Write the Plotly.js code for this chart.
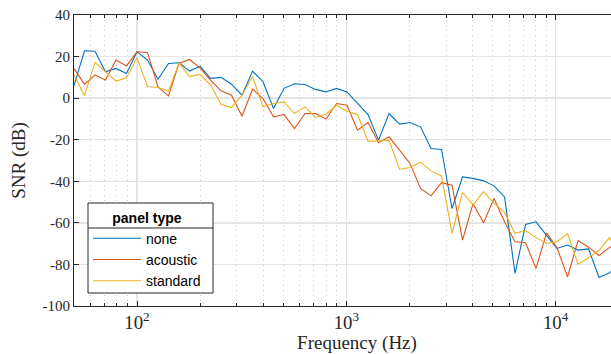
<!DOCTYPE html>
<html><head><meta charset="utf-8">
<script src="https://cdn.plot.ly/plotly-3.0.1.min.js"></script>
<style>html,body{margin:0;padding:0;overflow:hidden;background:#fff;width:611px;height:354px}#chart{width:640px;height:354px}</style>
</head><body><div id="chart"></div><script>
// 1/6-octave band centre frequencies (Hz)
const freqHz = [50, 56.12, 63.0, 70.71, 79.37, 89.09, 100, 112.25, 125.99, 141.42, 158.74, 178.18,
  200, 224.49, 251.98, 282.84, 317.48, 356.36, 400, 448.98, 503.97, 565.69, 634.96, 712.71,
  800, 897.97, 1007.9, 1131.4, 1269.9, 1425.4, 1600, 1795.9, 2015.9, 2262.7, 2539.8, 2850.9,
  3200, 3591.9, 4031.7, 4525.5, 5079.7, 5701.7, 6400, 7183.8, 8063.5, 9050.9, 10159, 11404,
  12800, 14368, 16127, 18102, 20319];

const snrNone = [6, 22.8, 22.6, 12.7, 14.3, 11.9, 22.3, 18.3, 9.1, 16.7, 17, 13,
  15.4, 9.5, 10, 6.7, 1.4, 13, 7.9, -5, 4.7, 6.9, 6.6, 4.2,
  3.0, 4.7, 3.0, -2.6, -7.9, -20.2, -7.4, -12.5, -11.7, -13.8, -24.2, -24.7,
  -53.1, -37.9, -38.6, -39.8, -42.2, -47.5, -84.3, -60.8, -59.5, -66, -72.3, -70.7,
  -73.1, -72.5, -86.3, -84, -80];

const snrAcoustic = [14.3, 6.6, 11.1, 8.7, 18.3, 15.5, 22.3, 22, 5.4, 1.1, 16.7, 18.6,
  14.6, 8.7, 3.5, 1.4, -8.7, 4.3, -0.2, -9, -7.9, -14.6, -7.4, -7.4,
  -10.1, -2.6, -3.4, -15.4, -11.7, -21.5, -18.6, -25, -31.4, -43.4, -47, -40.7,
  -41.9, -68.3, -50.7, -60, -48.3, -59.5, -69.1, -69.6, -81.9, -64.8, -72, -86,
  -68.5, -71.7, -75.7, -71.8, -70];

const snrStandard = [11.1, 1.2, 17.2, 12.8, 8.2, 9.8, 19.4, 5.6, 5.1, 3.4, 17, 10.4,
  11.4, 6.4, -3, -4.5, 1.4, 10.4, -4.2, -2.6, -1.8, -7.4, -4.2, -9.3,
  -7.7, -3.4, -6.3, -7.9, -20.7, -20.7, -20.2, -34.2, -33.4, -30.8, -35, -37.4,
  -65.1, -45.4, -51.3, -45, -50.5, -55, -65, -63.7, -67.1, -69.9, -69.1, -65.2,
  -79.9, -76.8, -73.2, -67, -77];

const seriesNames = ['none', 'acoustic', 'standard'];
const seriesColors = ['#0072BD', '#D95319', '#EDB120'];
const seriesValues = [snrNone, snrAcoustic, snrStandard];

const yTickVals = [-100, -80, -60, -40, -20, 0, 20, 40];
const yTickText = ['-100', '-80', '-60', '-40', '-20', '0', '20', '40'];

const traces = seriesValues.map((vals, i) => ({
  x: freqHz, y: vals, type: 'scatter', mode: 'lines', name: seriesNames[i],
  line: {color: seriesColors[i], width: 1.1}, hoverinfo: 'skip'
}));

const plotLeft = 74, plotTop = 15, plotBottom = 306, plotWidth = 566, pxPerDecade = 209.3;
const plotHeight = plotBottom - plotTop;
const xr0 = Math.log10(50);
const xr1 = xr0 + plotWidth / pxPerDecade;
const serif = 'Liberation Serif, Times New Roman, serif';
const sans = 'Liberation Sans, Arial, Helvetica, sans-serif';
const axisColor = '#262626';
const px = v => (v - plotLeft) / plotWidth;
const py = v => (plotBottom - v) / plotHeight;

// legend box geometry (pixels)
const lgL = 88, lgR = 213, lgT = 203, lgB = 293, lgSep = 228;

const layout = {
  width: 640, height: 354,
  margin: {l: plotLeft, r: 0, t: plotTop, b: 354 - plotBottom, pad: 0},
  paper_bgcolor: '#fff', plot_bgcolor: '#fff',
  showlegend: true,
  xaxis: {
    type: 'log', range: [xr0, xr1], dtick: 1, exponentformat: 'power',
    ticks: 'inside', ticklen: 5, tickcolor: axisColor, tickwidth: 1,
    showline: true, linecolor: axisColor, linewidth: 1, mirror: 'ticks',
    showgrid: true, gridcolor: '#e4e4e4', gridwidth: 1.5,
    zeroline: false,
    tickfont: {family: serif, size: 15, color: axisColor},
    minor: {dtick: 'D1', ticks: 'inside', ticklen: 3, tickcolor: axisColor,
            showgrid: true, griddash: '1px,4px', gridcolor: '#c8c8c8', gridwidth: 1},
    title: {text: 'Frequency (Hz)', font: {family: serif, size: 19, color: axisColor}, standoff: 7}
  },
  yaxis: {
    range: [-100, 40], tickmode: 'array', tickvals: yTickVals, ticktext: yTickText,
    ticks: 'inside', ticklen: 5, tickcolor: axisColor, tickwidth: 1,
    showline: true, linecolor: axisColor, linewidth: 1, mirror: false,
    showgrid: true, gridcolor: '#e4e4e4', gridwidth: 1.5,
    zeroline: false,
    tickfont: {family: serif, size: 15, color: axisColor},
    title: {text: 'SNR (dB)', font: {family: serif, size: 19, color: axisColor}, standoff: 11}
  },
  legend: {
    x: px(lgL), y: py(lgT + 1.5), xanchor: 'left', yanchor: 'top',
    bgcolor: 'rgba(0,0,0,0)', borderwidth: 0,
    font: {family: sans, size: 14, color: '#000'},
    title: {text: '<b>panel type</b>', side: 'top center', font: {family: sans, size: 14, color: '#000'}},
    itemwidth: 48, tracegroupgap: 0
  },
  shapes: [
    {type: 'rect', xref: 'paper', yref: 'paper', layer: 'above',
     x0: px(lgL), x1: px(lgR), y0: py(lgB), y1: py(lgT),
     fillcolor: '#fff', line: {color: axisColor, width: 1}},
    {type: 'line', xref: 'paper', yref: 'paper', layer: 'above',
     x0: px(lgL), x1: px(lgR), y0: py(lgSep), y1: py(lgSep),
     line: {color: axisColor, width: 1}}
  ]
};

Plotly.newPlot('chart', traces, layout, {staticPlot: true, displayModeBar: false});
</script></body></html>
